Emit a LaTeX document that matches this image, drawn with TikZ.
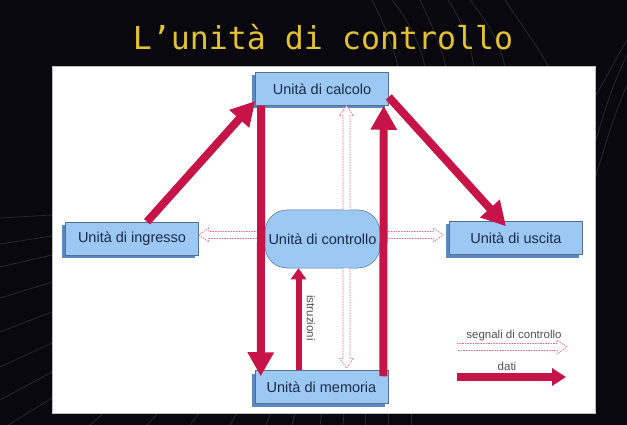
\documentclass[tikz,border=0pt]{standalone}
\usepackage{fontspec}
\setmainfont{Liberation Sans}
\newfontfamily\titlefont{DejaVu Sans Mono}
\usetikzlibrary{arrows.meta,calc,shadows}
\definecolor{datared}{RGB}{198,20,72}
\definecolor{ctrlpink}{RGB}{226,112,138}
\definecolor{boxblue}{RGB}{156,200,244}
\definecolor{boxside}{RGB}{92,138,192}
\definecolor{boxline}{RGB}{86,110,146}
\definecolor{labelnavy}{RGB}{28,42,72}
\definecolor{titleyellow}{RGB}{226,194,48}
\definecolor{legendgrey}{RGB}{80,80,88}
\definecolor{backdrop}{RGB}{8,8,14}
\begin{document}
\begin{tikzpicture}[x=1pt,y=-1pt,
  unitbox/.style={draw=boxline, line width=0.5pt, fill=boxblue, text=labelnavy,
    font=\fontsize{14.5}{16}\selectfont, minimum width=133pt, minimum height=33pt,
    inner sep=0pt,
    drop shadow={shadow xshift=-3.5pt, shadow yshift=-3pt, fill=boxside, opacity=1}},
  ctrlunit/.style={draw=boxline, line width=0.5pt, fill=boxblue, text=labelnavy,
    font=\fontsize{14.5}{16}\selectfont, minimum width=115pt, minimum height=58pt,
    inner sep=0pt, rounded corners=22pt},
  dataarrow/.style={draw=datared, line width=8pt,
    -{Triangle[length=24pt, width=25pt]}},
  instrarrow/.style={draw=datared, line width=6pt,
    -{Triangle[length=11pt, width=15pt]}},
  legdata/.style={draw=datared, line width=8pt,
    -{Triangle[length=14pt, width=17pt]}},
  ctrl/.style={draw=ctrlpink, line width=0.7pt, dash pattern=on 1.6pt off 1pt,
    fill=white,
    to path={let \p1=(\tikztostart), \p2=(\tikztotarget),
      \n1={atan2(\y2-\y1,\x2-\x1)}, \n2={veclen(\x2-\x1,\y2-\y1)-10pt} in
      ($(\p1)+(\n1+90:3.5pt)$) -- ($(\p1)+(\n1:\n2)+(\n1+90:3.5pt)$)
      -- ($(\p1)+(\n1:\n2)+(\n1+90:7pt)$) -- (\p2)
      -- ($(\p1)+(\n1:\n2)+(\n1-90:7pt)$) -- ($(\p1)+(\n1:\n2)+(\n1-90:3.5pt)$)
      -- ($(\p1)+(\n1-90:3.5pt)$)}},
  legendtext/.style={text=legendgrey, font=\fontsize{11.5}{13}\selectfont, inner sep=0pt},
  swirl/.style={draw=white, line width=0.8pt, opacity=0.13}
]
\useasboundingbox (0,0) rectangle (627,425);
% dark backdrop with faint swirling strands
\fill[backdrop] (0,0) rectangle (627,425);
\draw[swirl] (372,0) .. controls (385,25) and (392,45) .. (398,66);
\draw[swirl] (392,0) .. controls (410,22) and (420,45) .. (425,66);
\draw[swirl] (420,0) .. controls (432,25) and (440,45) .. (446,66);
\draw[swirl] (448,0) .. controls (462,20) and (470,45) .. (474,66);
\draw[swirl] (470,0) .. controls (490,25) and (500,45) .. (505,66);
\draw[swirl] (505,0) .. controls (525,30) and (540,50) .. (548,66);
\draw[swirl] (627,55) .. controls (610,90) and (602,120) .. (596,140);
\draw[swirl] (627,85) .. controls (612,120) and (604,150) .. (596,175);
\draw[swirl] (627,40) .. controls (615,60) and (605,80) .. (596,95);
\foreach \ya/\d in {215/3, 236/8, 255/12, 282/16, 312/20, 343/24, 372/28, 398/32}
  \draw[swirl] (0,\ya+\d) -- (52,\ya);
\foreach \xa/\d in {90/14, 147/11, 190/9, 230/7, 266/5, 292/3, 320/2, 343/1, 365/0, 388/0, 411/0}
  \draw[swirl] (\xa,425) -- (\xa+\d,413);

% title
\node[font=\titlefont\fontsize{31.6}{36}\selectfont, text=titleyellow] (title)
  at (323,37) {L’unità di controllo};

% white panel
\fill[white] (52,66) rectangle (595,413);
\draw[black!25, line width=0.6pt] (52,66) rectangle (595,413);

% units
\node[unitbox] (calcolo)   at (322,89)    {Unità di calcolo};
\node[unitbox] (ingresso)  at (132,238.5) {Unità di ingresso};
\node[unitbox] (uscita)    at (516,238)   {Unità di uscita};
\node[unitbox] (memoria)   at (321.5,387) {Unità di memoria};
\node[ctrlunit] (controllo) at (322.5,239) {Unità di controllo};

% control signals
\draw[ctrl] ([yshift=4pt]controllo.west) to ([yshift=4pt]controllo.west -| ingresso.east);
\draw[ctrl] ([yshift=4pt]controllo.east) to ($([yshift=4pt]controllo.east -| uscita.west)+(-6,0)$);
\draw[ctrl] ([xshift=24pt]controllo.north) to ([xshift=24pt]controllo.north |- calcolo.south);
\draw[ctrl] ([xshift=24pt]controllo.south) to ($([xshift=24pt]controllo.south |- memoria.north)+(0,-2)$);

% data flows
\draw[dataarrow] ([xshift=15pt]ingresso.north) -- ([yshift=-12pt]calcolo.west);
\draw[dataarrow] ([xshift=6pt]calcolo.south west) -- ([xshift=6pt,yshift=-6pt]memoria.north west);
\draw[dataarrow] ([xshift=-5pt,yshift=-6pt]memoria.north east) -- ([xshift=-5pt]calcolo.south east);
\draw[dataarrow] ([yshift=-8pt]calcolo.east) -- ([xshift=-10pt,yshift=-5pt]uscita.north);
\draw[instrarrow] ([xshift=-23pt]memoria.north) -- ([xshift=-23pt]memoria.north |- controllo.south);
\node[legendtext, rotate=-90] (istruzioni) at (311,318) {istruzioni};

% legend
\coordinate (legc1) at (457,347);
\coordinate (legc2) at (567,347);
\coordinate (legd1) at (457,377);
\coordinate (legd2) at (566,377);
\node[legendtext] (legctrl) at (514,336) {segnali di controllo};
\draw[ctrl] (legc1) to (legc2);
\node[legendtext] (legdati) at (507,366) {dati};
\draw[legdata] (legd1) -- (legd2);
\end{tikzpicture}
\end{document}
